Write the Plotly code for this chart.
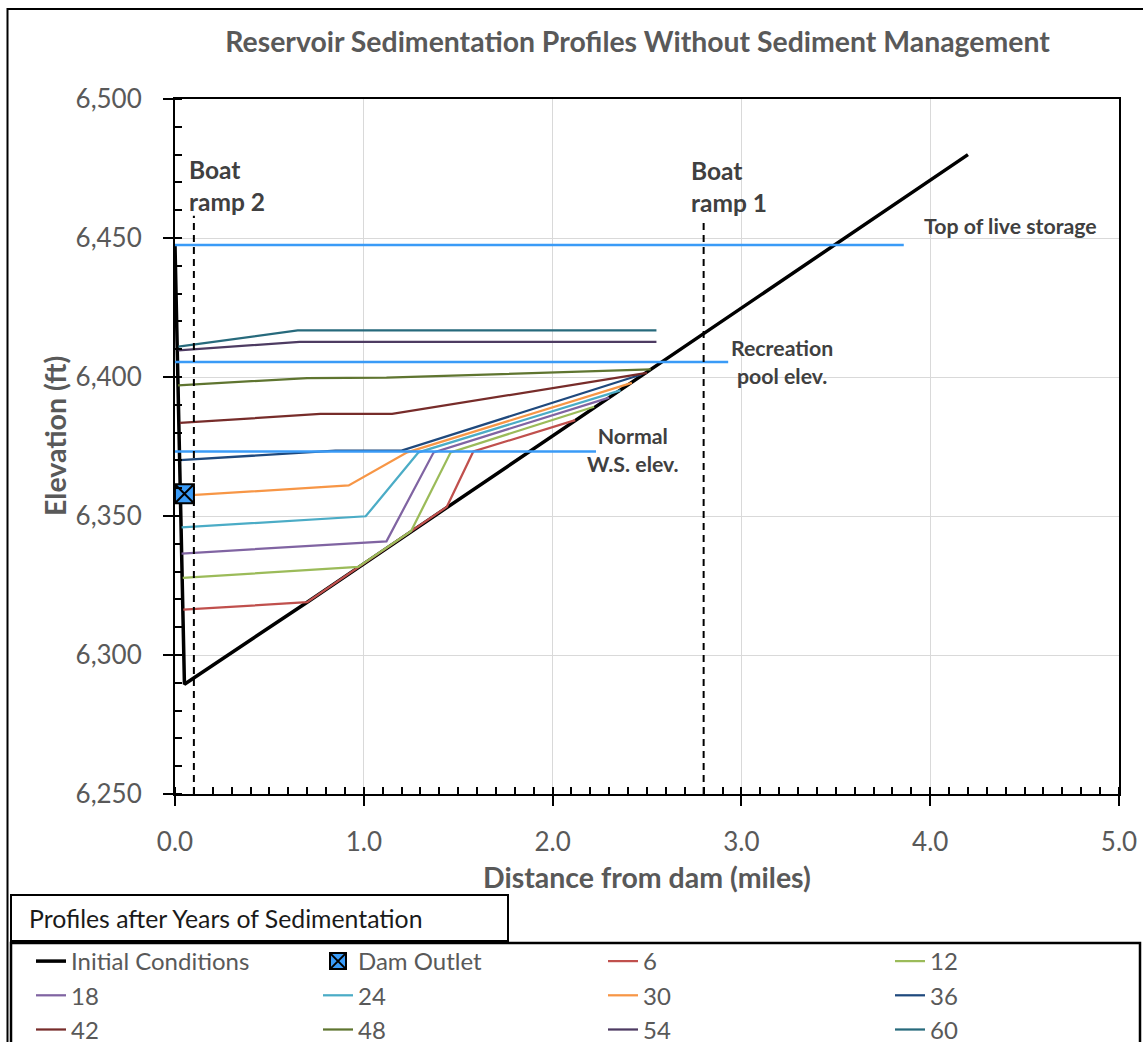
import plotly.graph_objects as go

# ---- data -------------------------------------------------------------
# Initial (pre-sedimentation) channel profile: distance (mi), elevation (ft)
initial_x = [0.0, 0.05, 0.70, 1.43, 2.57, 4.20]
initial_y = [6447.5, 6289.5, 6319.0, 6352.5, 6405.0, 6480.0]

# Dam outlet location
outlet_x = [0.05]
outlet_y = [6358.0]

# Bed profiles after N years of sedimentation
years = ["6", "12", "18", "24", "30", "36", "42", "48", "54", "60"]
profile_x = [
    [0.044, 0.70, 1.44, 1.58, 2.12],
    [0.041, 0.97, 1.25, 1.46, 2.22],
    [0.035, 1.12, 1.37, 2.30],
    [0.035, 1.01, 1.29, 2.36],
    [0.044, 0.92, 1.23, 2.42],
    [0.026, 0.85, 1.20, 2.47],
    [0.026, 0.77, 1.15, 2.50],
    [0.016, 0.70, 1.12, 2.52],
    [0.018, 0.66, 2.55],
    [0.018, 0.65, 2.55],
]
profile_y = [
    [6316.3, 6319.0, 6353.3, 6373.2, 6384.5],
    [6327.7, 6331.7, 6344.5, 6372.9, 6389.3],
    [6336.5, 6340.9, 6372.9, 6392.6],
    [6345.9, 6349.9, 6372.9, 6395.2],
    [6357.3, 6361.0, 6372.9, 6397.9],
    [6370.1, 6373.5, 6373.5, 6400.9],
    [6383.5, 6386.7, 6386.7, 6401.5],
    [6397.0, 6399.6, 6399.8, 6402.7],
    [6409.6, 6412.6, 6412.6],
    [6410.9, 6416.8, 6416.8],
]
profile_colors = ["#C0504D", "#9BBB59", "#8064A2", "#4BACC6", "#F79646",
                  "#1F497D", "#772C2A", "#5F7530", "#4D3B62", "#276A7C"]

# Reference pool elevations (ft) and the distance each line is drawn to
pool_names = ["Top of live storage", "Recreation pool elev.", "Normal W.S. elev."]
pool_elev = [6447.5, 6405.4, 6373.2]
pool_end = [3.86, 2.93, 2.23]

# Boat ramp locations (mi) and top of their marker lines (ft)
ramp_x = [0.1, 2.8]
ramp_top = [6458.0, 6457.0]

x_ticks = [0, 1, 2, 3, 4, 5]
y_ticks = [6250, 6300, 6350, 6400, 6450, 6500]

# ---- styling ------------------------------------------------------------
FONT = "Lato"
GRAY = "#595959"
DARK = "#404040"
POOL_BLUE = "#3A9BF7"

# figure pixel layout
W, H = 1143, 1042
L, R, T, B = 175, 1119, 99, 794


def px(xpix):
    return (xpix - L) / (R - L)


def py(ypix):
    return (B - ypix) / (B - T)


# legend laid out as 4 columns x 3 rows (one legend per column)
legend_cols = [36, 323, 608, 895]
legend_of = {}
rank_of = {}
order = ["Initial Conditions", "Dam Outlet"] + years
for k, name in enumerate(order):
    col = k % 4
    legend_of[name] = "legend" if col == 0 else f"legend{col + 1}"
    rank_of[name] = 100 + k

fig = go.Figure()

fig.add_trace(go.Scatter(
    x=initial_x, y=initial_y, mode="lines", name="Initial Conditions",
    line=dict(color="black", width=3.5), legend=legend_of["Initial Conditions"],
    legendrank=rank_of["Initial Conditions"]))

for i, yr in enumerate(years):
    fig.add_trace(go.Scatter(
        x=profile_x[i], y=profile_y[i], mode="lines", name=yr,
        line=dict(color=profile_colors[i], width=2.25),
        legend=legend_of[yr], legendrank=rank_of[yr]))

for elev, xend in zip(pool_elev, pool_end):
    fig.add_trace(go.Scatter(
        x=[0, xend], y=[elev, elev], mode="lines", showlegend=False,
        line=dict(color=POOL_BLUE, width=2.5), hoverinfo="skip"))

for rx, rtop in zip(ramp_x, ramp_top):
    fig.add_trace(go.Scatter(
        x=[rx, rx], y=[6250, rtop], mode="lines", showlegend=False,
        line=dict(color="black", width=2, dash="7px,5px"), hoverinfo="skip"))

fig.add_trace(go.Scatter(
    x=outlet_x, y=outlet_y, mode="markers", name="Dam Outlet",
    marker=dict(symbol="square-x", size=19, color=POOL_BLUE,
                line=dict(color="black", width=2)),
    legend=legend_of["Dam Outlet"], legendrank=rank_of["Dam Outlet"]))

# text labels on the chart
ann = [
    dict(x=0.062, y=6469, text="Boat<br>ramp 2", xanchor="left", size=24.5),
    dict(x=2.722, y=6468.5, text="Boat<br>ramp 1", xanchor="left", size=24.5),
    dict(x=3.957, y=6454.2, text="Top of live storage", xanchor="left", size=21.3),
    dict(x=3.215, y=6405.3, text="Recreation<br>pool elev.", xanchor="center", size=21.3),
    dict(x=2.426, y=6373.9, text="Normal<br>W.S. elev.", xanchor="center", size=21.3),
]
for a in ann:
    fig.add_annotation(
        x=a["x"], y=a["y"], xref="x", yref="y", text="<b>" + a["text"] + "</b>",
        showarrow=False, xanchor=a["xanchor"], yanchor="middle", align=a["xanchor"],
        font=dict(family=FONT, size=a["size"], color=DARK))

# axis titles
fig.add_annotation(
    x=px(55), y=py(436), xref="paper", yref="paper", text="<b>Elevation (ft)</b>",
    showarrow=False, textangle=-90, xanchor="center", yanchor="middle",
    font=dict(family=FONT, size=28.5, color=GRAY))
fig.add_annotation(
    x=px(647), y=py(877), xref="paper", yref="paper",
    text="<b>Distance from dam (miles)</b>",
    showarrow=False, xanchor="center", yanchor="middle",
    font=dict(family=FONT, size=28.5, color=GRAY))

# legend heading box
fig.add_annotation(
    x=px(27), y=py(918), xref="paper", yref="paper",
    text="Profiles after Years of Sedimentation",
    showarrow=False, xanchor="left", yanchor="middle",
    font=dict(family=FONT, size=24.8, color="#1A1A1A"))

shapes = [
    # outer chart frame
    dict(type="rect", xref="paper", yref="paper", x0=px(7.5), x1=px(1160),
         y0=py(1080), y1=py(9), line=dict(color="black", width=2)),
    # heading box
    dict(type="rect", xref="paper", yref="paper", x0=px(11), x1=px(508),
         y0=py(941), y1=py(895), line=dict(color="black", width=2),
         fillcolor="white"),
    # legend box
    dict(type="rect", xref="paper", yref="paper", x0=px(11), x1=px(1140),
         y0=py(1080), y1=py(943), line=dict(color="black", width=2.5)),
]

legend_style = dict(
    orientation="v", yanchor="top", xanchor="left", y=py(939),
    font=dict(family=FONT, size=24, color=GRAY),
    bgcolor="rgba(0,0,0,0)", borderwidth=0, traceorder="normal",
    itemwidth=30)

layout_legends = {}
for c, xc in enumerate(legend_cols):
    key = "legend" if c == 0 else f"legend{c + 1}"
    layout_legends[key] = dict(legend_style, x=px(xc - 5))

fig.update_layout(
    width=W, height=H,
    margin=dict(l=L, r=W - R, t=T, b=H - B, autoexpand=False),
    paper_bgcolor="white", plot_bgcolor="white",
    shapes=shapes,
    title=dict(
        text="<b>Reservoir Sedimentation Profiles Without Sediment Management</b>",
        x=px(637.5), xref="paper", xanchor="center",
        y=1 - 42 / H, yref="container", yanchor="middle",
        font=dict(family=FONT, size=28.4, color=GRAY)),
    xaxis=dict(
        range=[0, 5], tickvals=x_ticks, tickformat=".1f",
        showgrid=True, gridcolor="#D9D9D9", gridwidth=1, zeroline=False,
        showline=True, linecolor="black", linewidth=2, mirror=True,
        ticks="outside", ticklen=10, tickwidth=1.5, tickcolor="black",
        ticklabelstandoff=14,
        minor=dict(dtick=0.1, ticks="inside", ticklen=7, tickwidth=1.5,
                   tickcolor="black", showgrid=False),
        tickfont=dict(family=FONT, size=26, color=GRAY)),
    yaxis=dict(
        range=[6250, 6500], tickvals=y_ticks, tickformat=",d",
        showgrid=True, gridcolor="#D9D9D9", gridwidth=1, zeroline=False,
        showline=True, linecolor="black", linewidth=2, mirror=True,
        ticks="outside", ticklen=10, tickwidth=1.5, tickcolor="black",
        ticklabelstandoff=16,
        minor=dict(dtick=10, ticks="inside", ticklen=7, tickwidth=1.5,
                   tickcolor="black", showgrid=False),
        tickfont=dict(family=FONT, size=26, color=GRAY)),
    **layout_legends,
)

fig.write_html("out.html")
